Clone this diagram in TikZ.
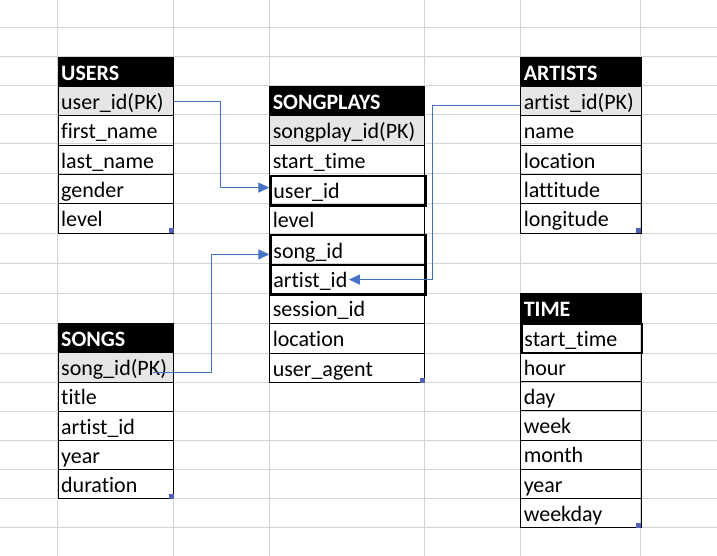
\documentclass[tikz,border=0pt]{standalone}
\usepackage{fontspec}
\setmainfont{Carlito}[Ligatures=NoCommon]
\usetikzlibrary{arrows.meta}
\definecolor{gridgray}{HTML}{D4D4D4}
\definecolor{pkgray}{HTML}{E7E6E6}
\definecolor{linkblue}{HTML}{4472C4}
\definecolor{handleblue}{HTML}{4F62B8}
\begin{document}
\begin{tikzpicture}[x=1pt,y=-1pt,
                    every node/.style={inner xsep=3pt,inner ysep=0pt,anchor=north west,align=left,
                      text height=21.5pt,text depth=5pt,font=\fontsize{22}{26}\selectfont},
                    hdcell/.style={fill=black,draw=black,line width=0.9pt,text=white,
                      font=\fontsize{22}{26}\selectfont\bfseries},
                    fldcell/.style={draw=black,line width=0.9pt},
                    pkcell/.style={fldcell,fill=pkgray},
                    fkcell/.style={draw=black,line width=2.2pt},
                    colA/.style={text width=109.6pt},
                    colB/.style={text width=149pt},
                    colC/.style={text width=114.4pt},
                    gridline/.style={gridgray,line width=1pt},
                    linkarrow/.style={linkblue,line width=1pt,-{Triangle[length=11pt,width=10pt]}}]
                    \fill [white] (0,0) rectangle (717,556);
                    \useasboundingbox (0,0) rectangle (717,556);
                    \foreach \gx in {57.7,173.3,269.3,424.3,520.3,640.7}
                      \draw [gridline] (\gx,0) -- (\gx,556);
                    \foreach \gy in {27.3,56.7,85.7,114.3,143.3,173.3,203.3,233.3,263.3,293.3,323.3,353.3,382.3,411.3,440.3,469.3,498.3,527.3}
                      \draw [gridline] (0,\gy) -- (717,\gy);
                    \node [hdcell,colA,minimum height=29.32pt] (users) at (57.7,56.7) {USERS};
                    \foreach \f/\s [count=\i] in {user\_id(PK)/pkcell,first\_name/fldcell,last\_name/fldcell,gender/fldcell,level/fldcell}
                      \node [\s,colA,minimum height=29.32pt] (users-\i) at (57.7,{56.7+\i*29.32}) {\f};
                    \node [hdcell,colB,minimum height=29.66pt] (sp) at (269.3,85.7) {SONGPLAYS};
                    \foreach \f/\s [count=\i] in {songplay\_id(PK)/pkcell,start\_time/fldcell,user\_id/fkcell,level/fldcell,song\_id/fkcell,artist\_id/fkcell,session\_id/fldcell,location/fldcell,user\_agent/fldcell}
                      \node [\s,colB,minimum height=29.66pt] (sp-\i) at (269.3,{85.7+\i*29.66}) {\f};
                    \node [hdcell,colC,minimum height=29.32pt] (artists) at (520.3,56.7) {ARTISTS};
                    \foreach \f/\s [count=\i] in {artist\_id(PK)/pkcell,name/fldcell,location/fldcell,lattitude/fldcell,longitude/fldcell}
                      \node [\s,colC,minimum height=29.32pt] (artists-\i) at (520.3,{56.7+\i*29.32}) {\f};
                    \node [hdcell,colA,minimum height=29.17pt] (songs) at (57.7,323.3) {SONGS};
                    \foreach \f/\s [count=\i] in {song\_id(PK)/pkcell,title/fldcell,artist\_id/fldcell,year/fldcell,duration/fldcell}
                      \node [\s,colA,minimum height=29.17pt] (songs-\i) at (57.7,{323.3+\i*29.17}) {\f};
                    \node [hdcell,colC,minimum height=29.25pt] (time) at (520.3,293.3) {TIME};
                    \foreach \f/\s [count=\i] in {start\_time/fkcell,hour/fldcell,day/fldcell,week/fldcell,month/fldcell,year/fldcell,weekday/fldcell}
                      \node [\s,colC,minimum height=29.25pt] (time-\i) at (520.3,{293.3+\i*29.25}) {\f};
                    \foreach \t in {users-5,sp-9,artists-5,songs-5,time-7}
                      \fill [handleblue] ([shift={(-5.5,-5.5)}]\t.south east) rectangle ([shift={(-0.5,-0.5)}]\t.south east);
                    \draw [linkarrow] (users-1.east) -- ++(46.4,0) |- ([yshift=3pt]sp-3.west);
                    \draw [linkarrow] ([shift={(-21.6,4.6)}]songs-1.east) -- ++(59.3,0) |- ([yshift=-4.5pt]sp-5.west);
                    \draw [linkarrow] ([yshift=-4.6pt]artists-1.west) -- ++(-87.6,0) |- ([xshift=-77.6pt]sp-6.east);
                \end{tikzpicture}
\end{document}
